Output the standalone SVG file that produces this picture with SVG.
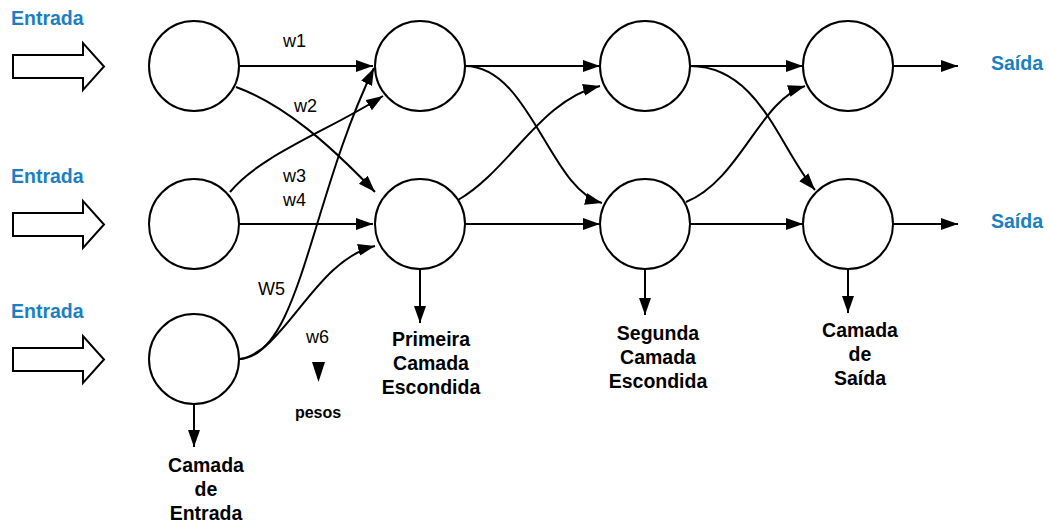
<svg xmlns="http://www.w3.org/2000/svg" width="1049" height="524" viewBox="0 0 1049 524">
<style>
.n{fill:#fff;stroke:#000;stroke-width:2}
.c{fill:none;stroke:#000;stroke-width:2;marker-end:url(#ah)}
.blk{fill:#fff;stroke:#000;stroke-width:2}
.in{font-family:"Liberation Sans",Arial,sans-serif;font-weight:bold;font-size:19.5px;fill:#1b7fc2}
.lb{font-family:"Liberation Sans",Arial,sans-serif;font-weight:bold;font-size:19.5px;fill:#000;text-anchor:middle}
.w{font-family:"Liberation Sans",Arial,sans-serif;font-size:18px;fill:#000}
</style>
<defs>
<marker id="ah" markerUnits="userSpaceOnUse" markerWidth="18" markerHeight="14" refX="17" refY="6" orient="auto">
<path d="M0,0 L17,6 L0,12 z" fill="#000"/>
</marker>
</defs>
<g id="inputs">
<text class="in" x="11" y="25">Entrada</text>
<path class="blk" d="M13,55 H83 V43 L104,66.5 L83,90 V78 H13 Z"/>
<text class="in" x="11" y="183">Entrada</text>
<path class="blk" d="M13,213 H83 V201 L104,224.5 L83,248 V236 H13 Z"/>
<text class="in" x="11" y="318">Entrada</text>
<path class="blk" d="M13,348 H83 V336 L104,359.5 L83,383 V371 H13 Z"/>
</g>
<g id="connectors">
<path class="c" d="M240,66 H373"/>
<path class="c" d="M236,87 C285,105 330,145 375,192"/>
<path class="c" d="M230,192 C260,155 330,130 383,96"/>
<path class="c" d="M240,224 H373"/>
<path class="c" d="M240,359 C300,355 310,200 374,68"/>
<path class="c" d="M240,359 C285,352 315,260 375,246"/>
<path class="c" d="M465,66 H600"/>
<path class="c" d="M465,66 C530,66 550,190 602,203"/>
<path class="c" d="M458,200 C510,170 540,100 600,86"/>
<path class="c" d="M465,224 H600"/>
<path class="c" d="M690,66 H803"/>
<path class="c" d="M690,66 C760,66 780,150 815,190"/>
<path class="c" d="M686,202 C740,180 760,100 805,86"/>
<path class="c" d="M690,224 H803"/>
<path class="c" d="M893,66 H958"/>
<path class="c" d="M893,224 H958"/>
<path class="c" d="M194,404 V447"/>
<path class="c" d="M420,269 V323"/>
<path class="c" d="M645,269 V315"/>
<path class="c" d="M848,269 V313"/>
</g>
<g id="n-in1"><circle class="n" cx="194" cy="66" r="45"/></g>
<g id="n-in2"><circle class="n" cx="194" cy="224" r="45"/></g>
<g id="n-in3"><circle class="n" cx="194" cy="359" r="45"/></g>
<g id="n-h1a"><circle class="n" cx="420" cy="66" r="45"/></g>
<g id="n-h1b"><circle class="n" cx="420" cy="224" r="45"/></g>
<g id="n-h2a"><circle class="n" cx="645" cy="66" r="45"/></g>
<g id="n-h2b"><circle class="n" cx="645" cy="224" r="45"/></g>
<g id="n-oa"><circle class="n" cx="848" cy="66" r="45"/></g>
<g id="n-ob"><circle class="n" cx="848" cy="224" r="45"/></g>
<g id="weights">
<text class="w" x="283" y="47">w1</text>
<text class="w" x="294" y="112">w2</text>
<text class="w" x="283" y="182">w3</text>
<text class="w" x="283" y="206">w4</text>
<text class="w" x="258" y="295">W5</text>
<text class="w" x="306" y="343">w6</text>
<path d="M312,362 H325 L318.5,382 Z" fill="#000"/>
<text class="lb" x="318" y="418" style="font-size:16px">pesos</text>
</g>
<g id="outputs">
<text class="in" x="991" y="70">Saída</text>
<text class="in" x="991" y="228">Saída</text>
</g>
<g id="layer-labels">
<text class="lb" x="206" y="472">Camada</text>
<text class="lb" x="206" y="496">de</text>
<text class="lb" x="206" y="520">Entrada</text>
<text class="lb" x="431" y="346">Primeira</text>
<text class="lb" x="431" y="370">Camada</text>
<text class="lb" x="431" y="394">Escondida</text>
<text class="lb" x="658" y="340">Segunda</text>
<text class="lb" x="658" y="364">Camada</text>
<text class="lb" x="658" y="388">Escondida</text>
<text class="lb" x="860" y="337">Camada</text>
<text class="lb" x="860" y="361">de</text>
<text class="lb" x="860" y="385">Saída</text>
</g>
</svg>
